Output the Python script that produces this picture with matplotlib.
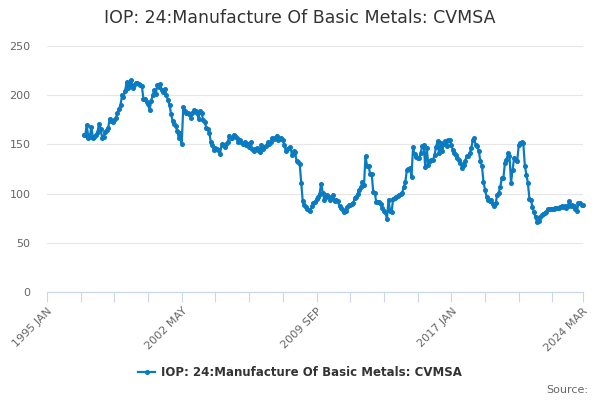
import matplotlib
matplotlib.use("Agg")
import matplotlib.pyplot as plt
import pandas as pd

title = "IOP: 24:Manufacture Of Basic Metals: CVMSA"
series_name = "IOP: 24:Manufacture Of Basic Metals: CVMSA"
axis_start = "1995-01-01"
axis_end = "2024-03-01"
data_start = "1997-01-01"
y_ticks = [0, 50, 100, 150, 200, 250]

# monthly index values, one row per year (1997 JAN .. 2024 MAR)
values = [
    160, 160, 170, 157, 158, 168, 157, 158, 160, 163, 171, 166,  # 1997
    157, 158, 163, 165, 167, 176, 174, 173, 175, 177, 182, 186,  # 1998
    190, 200, 198, 204, 213, 207, 210, 215, 207, 210, 212, 212,  # 1999
    211, 210, 209, 196, 196, 193, 191, 185, 194, 200, 205, 201,  # 2000
    210, 208, 211, 205, 203, 206, 200, 195, 190, 181, 174, 171,  # 2001
    169, 164, 157, 162, 150, 188, 184, 182, 182, 181, 177, 182,  # 2002
    185, 184, 182, 176, 184, 182, 175, 173, 167, 166, 162, 152,  # 2003
    149, 144, 146, 145, 144, 140, 150, 149, 147, 150, 152, 159,  # 2004
    157, 157, 160, 159, 156, 152, 154, 152, 150, 152, 149, 150,  # 2005
    147, 152, 145, 143, 145, 146, 144, 142, 149, 145, 147, 148,  # 2006
    152, 150, 152, 156, 155, 157, 159, 154, 155, 157, 154, 149,  # 2007
    143, 145, 146, 147, 139, 143, 142, 133, 132, 130, 111, 92,   # 2008
    88, 86, 84, 83, 82, 87, 90, 91, 95, 97, 100, 110,            # 2009
    101, 94, 97, 99, 97, 94, 96, 99, 92, 93, 92, 87,             # 2010
    85, 83, 81, 82, 86, 88, 88, 89, 90, 96, 97, 100,             # 2011
    104, 107, 112, 109, 138, 128, 128, 120, 120, 102, 101, 91,   # 2012
    91, 91, 89, 85, 82, 81, 74, 94, 82, 81, 95, 96,              # 2013
    97, 98, 99, 100, 101, 107, 112, 124, 125, 126, 117, 147,     # 2014
    140, 137, 136, 136, 141, 148, 149, 127, 146, 129, 133, 134,  # 2015
    134, 139, 147, 153, 141, 151, 143, 150, 153, 148, 154, 154,  # 2016
    149, 144, 141, 139, 136, 134, 131, 126, 129, 133, 138, 138,  # 2017
    141, 146, 154, 156, 149, 148, 143, 133, 128, 112, 104, 97,   # 2018
    94, 92, 94, 89, 87, 90, 99, 101, 107, 116, 116, 131,         # 2019
    134, 141, 138, 111, 124, 136, 134, 133, 149, 151, 152, 151,  # 2020
    128, 119, 111, 95, 94, 86, 81, 76, 71, 72, 76, 78,           # 2021
    79, 80, 81, 84, 84, 84, 84, 84, 85, 85, 85, 86,              # 2022
    87, 86, 87, 85, 87, 92, 87, 88, 87, 84, 82, 90,              # 2023
    90, 88, 88,                                                  # 2024
]

dates = pd.date_range(data_start, periods=len(values), freq="MS")

fig = plt.figure(figsize=(6, 4), dpi=100)
ax = fig.add_axes([47 / 600, 1 - 292 / 400, (583 - 47) / 600, (292 - 46) / 400])

line, = ax.plot(dates, values, color="#0b7bc1", lw=1.6, marker="o", ms=2.6,
                zorder=3, clip_on=False)

ax.set_ylim(0, 250)
ax.set_yticks(y_ticks)
ax.set_xlim(pd.Timestamp(axis_start), pd.Timestamp(axis_end))

# ticks every 22 months, label every 4th, plus the end of the axis
tick_dates = list(pd.date_range(axis_start, axis_end, freq="22MS"))
if tick_dates[-1] != pd.Timestamp(axis_end):
    tick_dates.append(pd.Timestamp(axis_end))
tick_labels = []
for i, d in enumerate(tick_dates):
    if i % 4 == 0 or d == pd.Timestamp(axis_end):
        tick_labels.append(d.strftime("%Y %b").upper())
    else:
        tick_labels.append("")
ax.set_xticks(tick_dates)
ax.set_xticklabels(tick_labels, rotation=45, ha="right", va="top",
                   rotation_mode="anchor", color="#666666", fontsize=8)

ax.tick_params(axis="x", length=7, width=0.8, color="#ccd6eb", pad=3)
ax.tick_params(axis="y", length=0, labelcolor="#666666", labelsize=8, pad=12)

for side in ["top", "right", "left"]:
    ax.spines[side].set_visible(False)
ax.spines["bottom"].set_color("#ccd6eb")
ax.spines["bottom"].set_linewidth(0.9)

ax.grid(axis="y", color="#e6e6e6", lw=0.8)
ax.set_axisbelow(True)

fig.text(0.5, 1 - 18 / 400, title, ha="center", va="center",
         fontsize=12.5, color="#333333")

fig.legend(handles=[line], labels=[series_name], loc="center",
           bbox_to_anchor=(0.5, 1 - 373 / 400), frameon=False,
           handlelength=1.4, numpoints=1, handletextpad=0.5,
           prop={"weight": "bold", "size": 8.5}, labelcolor="#333333")

fig.text(588 / 600, 1 - 390 / 400, "Source:", ha="right", va="center",
         fontsize=8, color="#666666")

fig.savefig("out.png", dpi=100)
plt.close(fig)
